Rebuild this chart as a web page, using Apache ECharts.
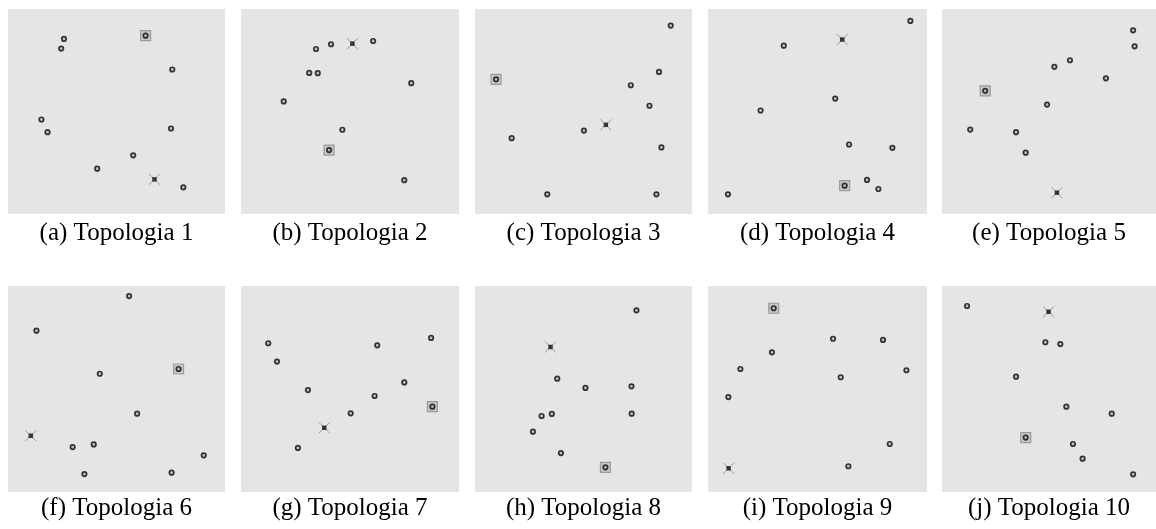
<!DOCTYPE html>
<html>
<head>
<meta charset="utf-8">
<script src="https://cdn.jsdelivr.net/npm/echarts@6/dist/echarts.min.js"></script>
<style>
html,body{margin:0;padding:0;background:#fff;}
#chart{width:1156px;height:529px;}
</style>
</head>
<body>
<div id="chart"></div>
<script>
// Panel captions
const captions = ['(a) Topologia 1','(b) Topologia 2','(c) Topologia 3','(d) Topologia 4','(e) Topologia 5',
                  '(f) Topologia 6','(g) Topologia 7','(h) Topologia 8','(i) Topologia 9','(j) Topologia 10'];

// Nodes [x, y] in a 0-100 field, per topology
const nodes1 = [[25.8,85.4],[24.5,80.7],[75.7,70.5],[15.4,46.1],[18.2,39.9],[75.1,41.7],[57.7,28.6],[41.1,22.1],[80.8,13.0]];
const nodes2 = [[34.4,80.5],[41.3,82.8],[60.6,84.4],[31.3,68.8],[35.2,68.7],[78.1,63.8],[19.6,54.9],[46.5,41.1],[74.9,16.5]];
const nodes3 = [[90.2,91.9],[84.8,69.3],[71.8,62.8],[80.4,52.8],[50.2,40.7],[16.9,37.0],[85.9,32.5],[33.3,9.6],[83.6,9.6]];
const nodes4 = [[92.4,94.2],[34.6,82.1],[58.1,56.3],[24.0,50.5],[64.4,33.9],[84.2,32.3],[72.6,16.6],[77.8,12.2],[9.1,9.6]];
const nodes5 = [[89.3,89.6],[90.0,81.8],[59.8,75.0],[52.5,71.8],[76.6,66.2],[49.1,53.4],[13.2,41.2],[34.6,39.9],[39.1,29.9]];
const nodes6 = [[55.8,95.1],[13.1,78.3],[42.3,57.4],[59.5,38.0],[29.8,21.8],[39.5,23.1],[90.2,17.8],[35.2,8.7],[75.4,9.4]];
const nodes7 = [[12.5,72.2],[16.5,63.3],[62.5,71.2],[87.2,74.8],[30.7,49.5],[74.9,53.2],[61.3,46.6],[50.3,38.2],[26.1,21.4]];
const nodes8 = [[74.4,88.2],[37.9,55.0],[50.9,50.5],[72.1,51.3],[30.7,36.9],[35.4,37.9],[72.2,38.0],[26.7,29.3],[39.6,18.9]];
const nodes9 = [[57.1,74.4],[79.9,73.8],[29.2,67.8],[14.8,59.7],[60.6,55.7],[90.6,59.1],[9.3,46.1],[83.0,23.3],[64.1,12.5]];
const nodes10 = [[11.7,90.3],[48.3,72.7],[55.3,71.8],[34.6,56.0],[58.1,41.4],[79.3,38.0],[61.2,23.3],[65.7,16.2],[89.3,8.6]];

// Square-marked node (sink) per topology
const sinks = [[63.4,87.0],[40.4,31.2],[9.7,65.7],[62.4,13.8],[20.2,60.1],[78.6,59.7],[87.8,41.4],[60.1,12.0],[30.0,89.2],[39.1,26.4]];
// Cross-marked node per topology
const crosses = [[67.5,16.9],[51.1,83.1],[60.3,43.5],[61.3,85.1],[53.7,10.4],[10.5,27.3],[38.2,31.2],[34.8,70.4],[9.4,11.5],[49.8,87.5]];

const allNodes = [nodes1,nodes2,nodes3,nodes4,nodes5,nodes6,nodes7,nodes8,nodes9,nodes10];

// Layout
const colLeft = [8, 241, 475, 708, 942];
const colWidth = [217, 218, 217, 219, 214];
const rowTop = [9, 286];
const rowHeight = [205, 206];
const captionY = [233, 508];

const grids = [], xAxes = [], yAxes = [], series = [], graphics = [];
for (let i = 0; i < 10; i++) {
  const r = Math.floor(i / 5), c = i % 5;
  grids.push({left: colLeft[c], top: rowTop[r], width: colWidth[c], height: rowHeight[r],
    show: true, backgroundColor: '#e5e5e5', borderWidth: 0});
  xAxes.push({type: 'value', gridIndex: i, min: 0, max: 100, show: false});
  yAxes.push({type: 'value', gridIndex: i, min: 0, max: 100, show: false});
  series.push({type: 'scatter', xAxisIndex: i, yAxisIndex: i, data: [sinks[i]], symbol: 'rect', symbolSize: 10,
    itemStyle: {color: '#c0c0c0', borderColor: '#8c8c8c', borderWidth: 1.2}, silent: true, z: 2});
  series.push({type: 'scatter', xAxisIndex: i, yAxisIndex: i, data: [crosses[i]],
    symbol: 'path://M0,0L10,10M10,0L0,10', symbolSize: 11,
    itemStyle: {color: 'none', borderColor: '#8a8a8a', borderWidth: 1}, silent: true, z: 2});
  series.push({type: 'scatter', xAxisIndex: i, yAxisIndex: i, data: [crosses[i]], symbol: 'rect', symbolSize: 4.5,
    itemStyle: {color: '#111'}, silent: true, z: 4});
  series.push({type: 'scatter', xAxisIndex: i, yAxisIndex: i, data: allNodes[i].concat([sinks[i]]), symbol: 'circle', symbolSize: 4.5,
    itemStyle: {color: '#b8b8b8', borderColor: '#0a0a0a', borderWidth: 1.7}, silent: true, z: 3});
  graphics.push({type: 'text', x: colLeft[c] + colWidth[c] / 2, y: captionY[r],
    style: {text: captions[i], font: '25px "Liberation Serif"', fill: '#000', textAlign: 'center', textVerticalAlign: 'middle'}});
}

const chart = echarts.init(document.getElementById('chart'), null, {renderer: 'canvas'});
chart.setOption({
  animation: false,
  backgroundColor: '#ffffff',
  grid: grids, xAxis: xAxes, yAxis: yAxes, series: series,
  graphic: graphics
});
</script>
</body>
</html>
